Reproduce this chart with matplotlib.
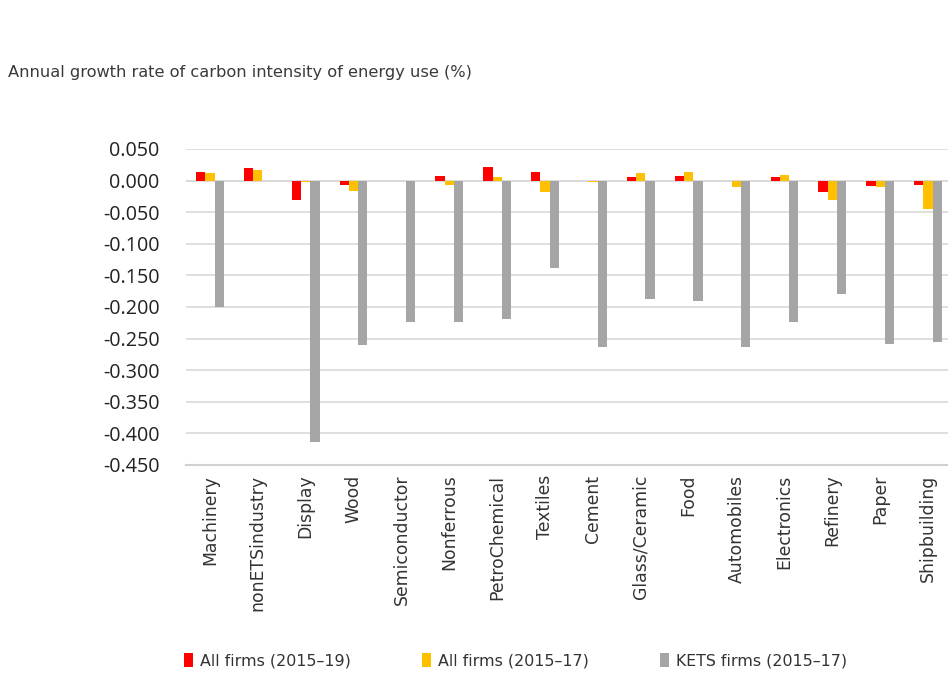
import numpy as np
import matplotlib
matplotlib.use("Agg")
import matplotlib.pyplot as plt
from matplotlib.patches import Patch

sectors = [
    "Machinery", "nonETSindustry", "Display", "Wood", "Semiconductor",
    "Nonferrous", "PetroChemical", "Textiles", "Cement", "Glass/Ceramic",
    "Food", "Automobiles", "Electronics", "Refinery", "Paper", "Shipbuilding",
]
all_firms_2015_19 = [0.014, 0.020, -0.031, -0.007, 0.0, 0.007, 0.021, 0.014,
                     0.0, 0.006, 0.008, 0.0, 0.006, -0.018, -0.008, -0.007]
all_firms_2015_17 = [0.012, 0.016, -0.002, -0.016, 0.0, -0.007, 0.006, -0.018,
                     -0.002, 0.012, 0.013, -0.010, 0.009, -0.031, -0.010, -0.045]
kets_firms_2015_17 = [-0.200, np.nan, -0.414, -0.260, -0.223, -0.223, -0.219, -0.139,
                      -0.264, -0.188, -0.191, -0.263, -0.223, -0.180, -0.258, -0.255]
series_names = ["All firms (2015\u201319)", "All firms (2015\u201317)", "KETS firms (2015\u201317)"]
colors = ["#ff0000", "#ffc000", "#a5a5a5"]
yticks = np.arange(0.05, -0.451, -0.05)

W, H = 948, 679
fig = plt.figure(figsize=(W / 100, H / 100), dpi=100)
# plot area runs slightly past the right edge of the canvas
ax = fig.add_axes([186 / W, 1 - 465 / H, 766 / W, 316 / H])

x = np.arange(len(sectors))
bw = 0.194
for i, (vals, name, c) in enumerate(zip([all_firms_2015_19, all_firms_2015_17, kets_firms_2015_17],
                                        series_names, colors)):
    ax.bar(x + (i - 1) * bw, vals, width=bw, color=c, label=name, zorder=3)

ax.set_xlim(-0.5, len(sectors) - 0.5)
ax.set_ylim(-0.45, 0.05)
ax.set_yticks(yticks)
ax.set_yticklabels([f"{v:.3f}" for v in yticks], fontfamily="Open Sans", fontsize=14.2,
                   color="#222222")
ax.tick_params(axis="y", length=0, pad=19)
ax.set_xticks(x)
ax.set_xticklabels(sectors, rotation=90, fontfamily="DejaVu Sans", fontsize=12.4,
                   color="#333333", va="top", ha="center")
ax.tick_params(axis="x", length=0, pad=7)
ax.grid(axis="y", color="#d9d9d9", linewidth=1.2, zorder=0)
ax.axhline(0, color="#d9d9d9", linewidth=1.2, zorder=1)
for side in ["top", "right", "left"]:
    ax.spines[side].set_visible(False)
ax.spines["bottom"].set_color("#d0d0d0")
ax.spines["bottom"].set_linewidth(1.5)

fig.text(8 / W, 1 - 72 / H, "Annual growth rate of carbon intensity of energy use (%)",
         fontfamily="DejaVu Sans", fontsize=11.7, color="#3a3a3a", va="center", ha="left")

handles = [Patch(facecolor=c) for c in colors]
fig.legend(handles, series_names, loc="center left", bbox_to_anchor=(170 / W, 1 - 661 / H),
           ncol=3, frameon=False, handlelength=0.55, handleheight=0.9, handletextpad=0.45,
           columnspacing=4.5, prop={"family": "DejaVu Sans", "size": 11.4}, labelcolor="#333333")

fig.savefig("out.png", dpi=100, facecolor="white")
